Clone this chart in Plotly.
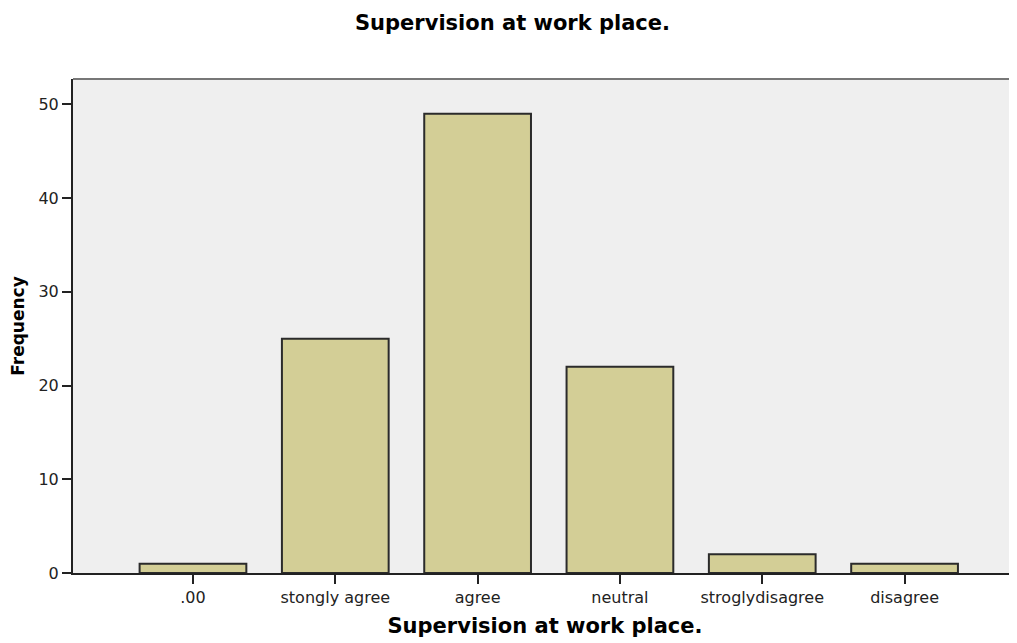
import plotly.graph_objects as go

categories = [".00", "stongly agree", "agree", "neutral", "stroglydisagree", "disagree"]
frequency = [1, 25, 49, 22, 2, 1]

fig = go.Figure()
fig.add_trace(go.Bar(
    x=list(range(len(categories))),
    y=frequency,
    width=0.75,
    marker=dict(color="#D3CE96", line=dict(color="#2b2b2b", width=2)),
))

# top border of the plot frame
fig.add_shape(type="line", xref="paper", yref="paper", x0=0, x1=1, y0=1, y1=1,
              line=dict(color="#777777", width=2))

# page body has an 8px margin, so the figure is sized to fit the window
fig.update_layout(
    width=1009, height=635,
    margin=dict(l=65, r=0, t=71, b=70),
    paper_bgcolor="white",
    plot_bgcolor="#EFEFEF",
    font=dict(family="DejaVu Sans", size=15, color="#222222"),
    title=dict(text="<b>Supervision at work place.</b>", x=0.5, xref="container",
               y=0.977, yref="container", yanchor="middle",
               font=dict(size=21, color="#000000")),
    showlegend=False,
)
fig.update_xaxes(
    tickvals=list(range(len(categories))), ticktext=categories,
    range=[-0.843, 5.79],
    showgrid=False, zeroline=False,
    showline=True, linecolor="#222222", linewidth=2,
    ticks="outside", ticklen=9, tickwidth=2, tickcolor="#222222",
    tickfont=dict(size=16),
    title=dict(text="<b>Supervision at work place.</b>", font=dict(size=21, color="#000000"), standoff=12),
)
fig.update_yaxes(
    range=[0, 52.7], tickvals=[0, 10, 20, 30, 40, 50],
    showgrid=False, zeroline=False,
    showline=True, linecolor="#222222", linewidth=2,
    ticks="outside", ticklen=9, tickwidth=2, tickcolor="#222222",
    tickfont=dict(size=16),
    title=dict(text="<b>Frequency</b>", font=dict(size=17, color="#000000"), standoff=10),
)

fig.write_html("out.html")
